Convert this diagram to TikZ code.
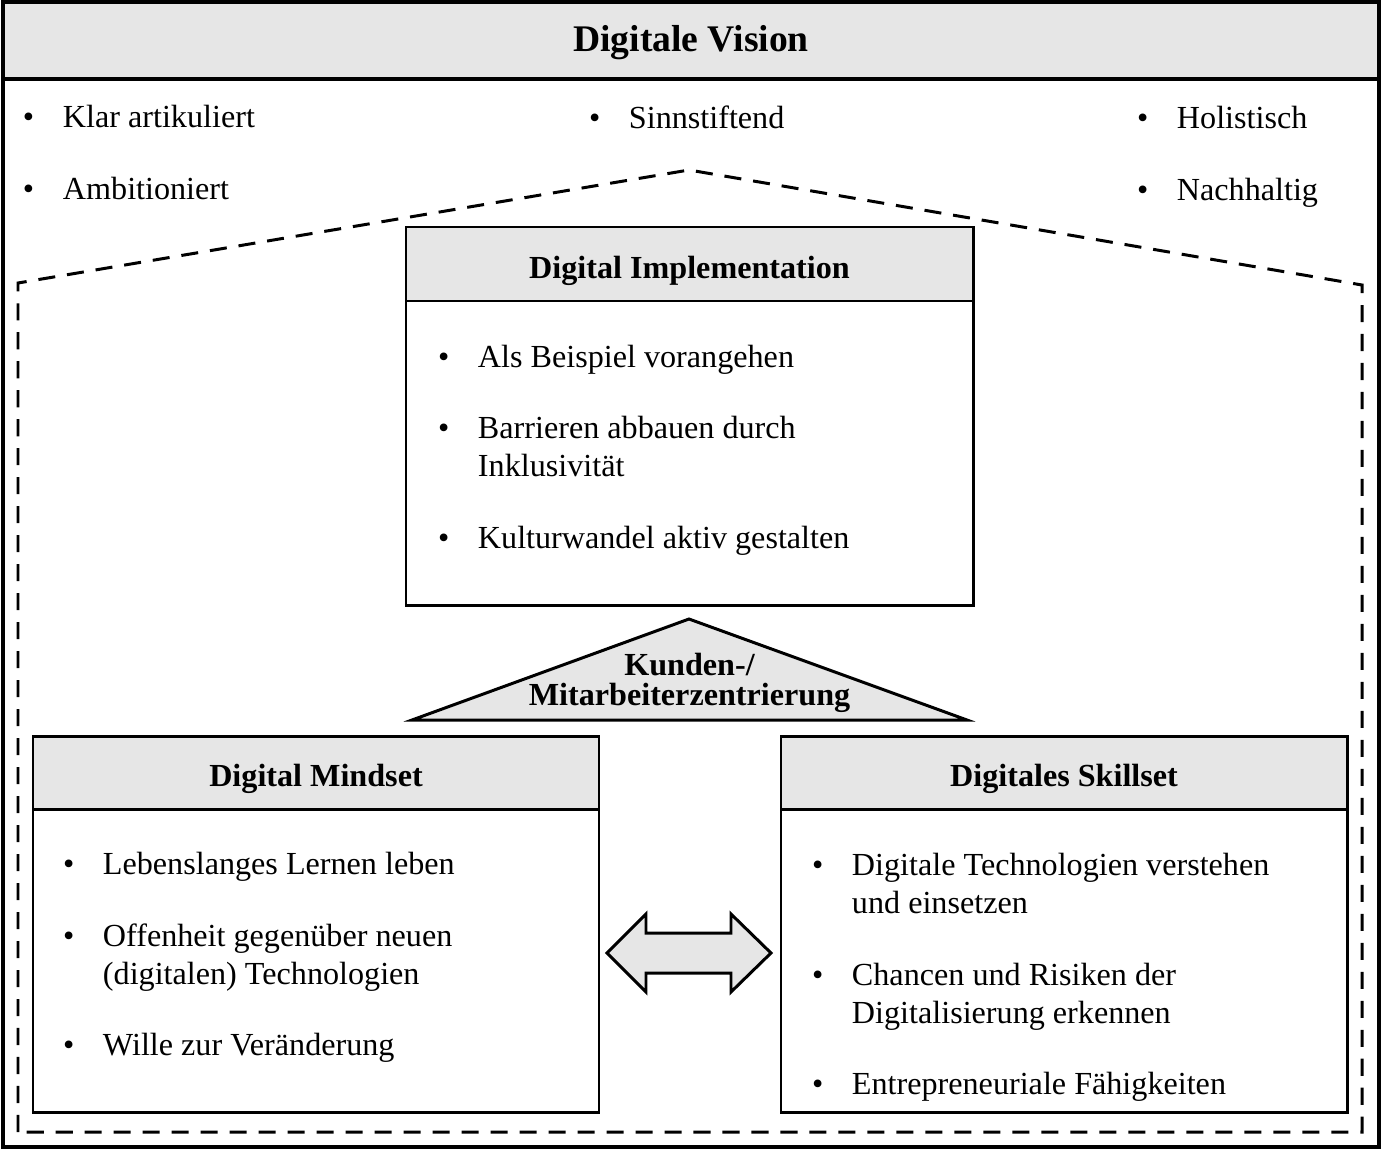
\documentclass[tikz,border=0pt]{standalone}
\usepackage{fontspec}
\setmainfont{Liberation Serif}
\definecolor{boxgrey}{HTML}{E6E6E6}
\newcommand\blt{\makebox[0.8cm][l]{\textbullet}}
\newcommand\ind{\hspace*{0.8cm}}
\tikzset{
    box/.style={draw,line width=1.7pt},
    headbox/.style={box,fill=boxgrey},
    house/.style={line width=1.7pt,dash pattern=on 9.7pt off 6.8pt},
    title/.style={anchor=base,font=\fontsize{18.3}{21.6}\selectfont\bfseries},
    item/.style={anchor=base west,align=left},
}

\begin{document}
\begin{tikzpicture}[x=0.02cm,y=-0.02cm,font=\fontsize{18.3}{21.6}\selectfont,inner sep=0pt,outer sep=0pt]
    \useasboundingbox (0,0) rectangle (1384,1150);

    % Vision frame
    \draw[headbox,line width=1.9pt] (3,2) rectangle (1379,79);
    \draw[box,line width=1.9pt] (3,79) rectangle (1379,1147);
    \node[title,font=\fontsize{21.4}{25}\selectfont\bfseries] (vision) at (691,51) {Digitale Vision};

    \node[item] (klar) at (23,127) {\blt Klar artikuliert};
    \node[item] (ambi) at (23,199) {\blt Ambitioniert};
    \node[item] (sinn) at (589,128) {\blt Sinnstiftend};
    \node[item] (holi) at (1137,128) {\blt Holistisch};
    \node[item] (nach) at (1137,200) {\blt Nachhaltig};

    % dashed house
    \coordinate (hbl) at (18,1132);
    \coordinate (htl) at (18,283);
    \coordinate (apex) at (689,170);
    \coordinate (htr) at (1362,285);
    \coordinate (hbr) at (1362,1132);
    \draw[house] (hbl) -- (htl) -- (apex) -- (htr) -- (hbr) -- cycle;

    % Digital Implementation
    \begin{scope}
        \draw[headbox] (406,227) rectangle (973,301);
        \draw[box,fill=white] (406,301) rectangle (973,605);
        \node[title] (impl) at (689.5,278) {Digital Implementation};
        \node[item] (impl1) at (438,367) {\blt Als Beispiel vorangehen};
        % base of a two-line item is its last line
        \node[item] (impl2) at (438,476) {\blt Barrieren abbauen durch\\\ind Inklusivität};
        \node[item] (impl3) at (438,548) {\blt Kulturwandel aktiv gestalten};
    \end{scope}

    % roof
    \coordinate (rtop) at (689,619);
    \coordinate (rleft) at (412,720);
    \coordinate (rright) at (967,720);
    \draw[headbox] (rleft) -- (rtop) -- (rright) -- cycle;
    \node[title,align=center,font=\fontsize{18.3}{17}\selectfont\bfseries] (roof) at (689.5,705) {Kunden-/\\Mitarbeiterzentrierung};

    % Digital Mindset
    \begin{scope}
        \draw[headbox] (33,736) rectangle (599,809);
        \draw[box] (33,809) rectangle (599,1112);
        \node[title] (mind) at (316,786) {Digital Mindset};
        \node[item] (mind1) at (63,874) {\blt Lebenslanges Lernen leben};
        \node[item] (mind2) at (63,984) {\blt Offenheit gegenüber neuen\\\ind (digitalen) Technologien};
        \node[item] (mind3) at (63,1055) {\blt Wille zur Veränderung};
    \end{scope}

    % Digitales Skillset
    \begin{scope}
        \draw[headbox] (781,736) rectangle (1347,809);
        \draw[box] (781,809) rectangle (1347,1112);
        \node[title] (skill) at (1064,786) {Digitales Skillset};
        \node[item] (skill1) at (812,913) {\blt Digitale Technologien verstehen\\\ind und einsetzen};
        \node[item] (skill2) at (812,1023) {\blt Chancen und Risiken der\\\ind Digitalisierung erkennen};
        \node[item] (skill3) at (812,1094) {\blt Entrepreneuriale Fähigkeiten};
    \end{scope}

    % double arrow
    \draw[headbox] (607,953) -- (646,914) -- (646,933) -- (731,933) -- (731,914) -- (771,953)
        -- (731,992) -- (731,973) -- (646,973) -- (646,992) -- cycle;

\end{tikzpicture}
\end{document}
